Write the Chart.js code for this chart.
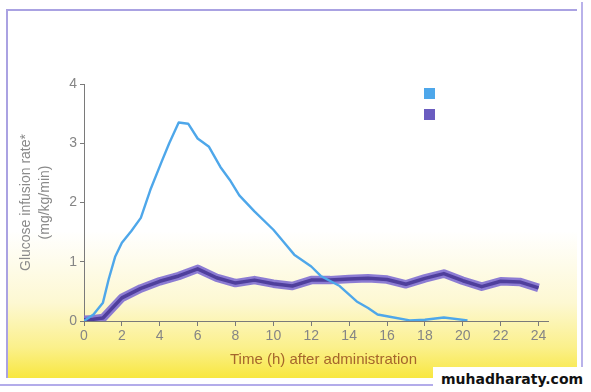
<!DOCTYPE html>
<html>
<head>
<meta charset="utf-8">
<script src="https://cdn.jsdelivr.net/npm/chart.js@4.4.1/dist/chart.umd.min.js"></script>
<style>
  html, body { margin: 0; padding: 0; background: #ffffff; }
  #wrap { position: relative; width: 591px; height: 392px; overflow: hidden; background: #ffffff; }
  #panel {
    position: absolute; left: 6px; top: 9px; width: 569px; height: 367px;
    background: linear-gradient(to bottom, #ffffff 0px, #ffffff 220px, #fdf8d2 292px, #fbf08a 337px, #f8e740 367px);
    border-left: 2px solid #aaa2e2; border-top: 2px solid #aaa2e2;
  }
  #rline { position: absolute; left: 581px; top: 2px; width: 2px; height: 376px; background: #b9b2ea; }
  #bline { position: absolute; left: 0px; top: 384px; width: 591px; height: 2px; background: #b3acea; }
  #wm {
    position: absolute; left: 433px; top: 367px; width: 158px; height: 25px; background: #ffffff;
    font-family: "DejaVu Sans", sans-serif; font-weight: bold; font-size: 14px; color: #111;
    line-height: 25px; text-align: left; padding-left: 8px; box-sizing: border-box; white-space: nowrap;
  }
  canvas { position: absolute; left: 0; top: 0; }
</style>
</head>
<body>
<div id="wrap">
  <div id="panel"></div>
  <div id="rline"></div>
  <div id="bline"></div>
  <canvas id="c" width="591" height="392"></canvas>
  <div id="wm">muhadharaty.com</div>
</div>
<script>
// Data
const seriesNames = ['Rapid-acting', 'Long-acting'];
const xTickStep = 2;
const yTickValues = [0, 1, 2, 3, 4];

const rapidHours = [0, 0.5, 1.0, 1.3, 1.65, 2.0, 2.5, 3.0, 3.5, 4.1, 4.5, 5.0, 5.5, 6.0, 6.6, 7.2, 7.7, 8.2, 9.0, 10.0, 10.5, 11.1, 12.0, 12.5, 13.5, 14.4, 15.0, 15.5, 16.0, 17.2, 18.0, 19.0, 20.25];
const rapidRate  = [0, 0.11, 0.31, 0.70, 1.09, 1.32, 1.52, 1.74, 2.21, 2.69, 3.00, 3.35, 3.33, 3.08, 2.94, 2.60, 2.38, 2.12, 1.85, 1.54, 1.35, 1.12, 0.92, 0.76, 0.59, 0.33, 0.22, 0.11, 0.08, 0.01, 0.02, 0.06, 0.01];

const longHours = [0, 0.5, 1.0, 2.0, 3.0, 4.0, 5.0, 6.0, 7.0, 8.0, 9.0, 10.0, 11.0, 12.0, 13.0, 14.0, 15.0, 16.0, 17.0, 18.0, 19.0, 20.0, 21.0, 22.0, 23.0, 24.0];
const longRate  = [0.02, 0.03, 0.05, 0.39, 0.55, 0.67, 0.76, 0.88, 0.73, 0.64, 0.69, 0.63, 0.59, 0.69, 0.69, 0.71, 0.72, 0.70, 0.62, 0.72, 0.80, 0.68, 0.58, 0.67, 0.66, 0.56];

const toPoints = (xs, ys) => xs.map((x, i) => ({ x: x, y: ys[i] }));

const blueColor = '#4ea7ea';
const purpleHalo = 'rgba(128,110,210,0.9)';
const purpleCore = '#4f3f9c';

// simple legend (colour boxes only, as in the reference)
const boxLegend = {
  id: 'boxLegend',
  afterDraw(chart) {
    const ctx = chart.ctx;
    const a = chart.chartArea;
    const items = [blueColor, '#6a5cc0'];
    ctx.save();
    items.forEach((col, i) => {
      ctx.fillStyle = col;
      ctx.fillRect(a.right - 124, a.top + 4 + i * 21, 11, 11);
    });
    ctx.restore();
  }
};

new Chart(document.getElementById('c'), {
  type: 'line',
  data: {
    datasets: [
      { label: seriesNames[1] + ' halo', data: toPoints(longHours, longRate), borderColor: purpleHalo, borderWidth: 8.5, pointRadius: 0, tension: 0, borderJoinStyle: 'round', borderCapStyle: 'butt', order: 3 },
      { label: seriesNames[1], data: toPoints(longHours, longRate), borderColor: purpleCore, borderWidth: 3.5, pointRadius: 0, tension: 0, borderJoinStyle: 'round', order: 2 },
      { label: seriesNames[0], data: toPoints(rapidHours, rapidRate), borderColor: blueColor, borderWidth: 2.4, pointRadius: 0, tension: 0, borderJoinStyle: 'round', order: 1 }
    ]
  },
  options: {
    responsive: false,
    animation: false,
    devicePixelRatio: 1,
    layout: { padding: { left: 0, top: 84, right: 43, bottom: 0 } },
    plugins: { legend: { display: false }, tooltip: { enabled: false } },
    scales: {
      x: {
        type: 'linear', min: 0, max: 24.5,
        afterFit: (s) => { s.height = 71; },
        afterBuildTicks: (s) => { const t = []; for (let v = 0; v <= 24; v += xTickStep) t.push({ value: v }); s.ticks = t; },
        border: { display: true, color: '#7a7a7a', width: 1 },
        grid: { display: true, drawOnChartArea: false, drawTicks: true, tickLength: 5, color: '#7a7a7a' },
        ticks: { color: '#858585', font: { family: 'Liberation Sans, Arial, sans-serif', size: 14 }, padding: 2, maxRotation: 0 },
        title: { display: true, text: '\u2002\u2002Time (h) after administration', color: '#a5652c', font: { family: 'Liberation Sans, Arial, sans-serif', size: 15 }, padding: { top: 0, bottom: 23 } }
      },
      y: {
        type: 'linear', min: 0, max: 4,
        afterFit: (s) => { s.width = 84; },
        afterBuildTicks: (s) => { s.ticks = yTickValues.map(v => ({ value: v })); },
        border: { display: true, color: '#7a7a7a', width: 1 },
        grid: { display: true, drawOnChartArea: false, drawTicks: true, tickLength: 4, color: '#7a7a7a' },
        ticks: { color: '#858585', font: { family: 'Liberation Sans, Arial, sans-serif', size: 14 }, padding: 3 },
        title: { display: true, text: ['Glucose infusion rate*', '(mg/kg/min)'], color: '#8a8a8a', font: { family: 'Liberation Sans, Arial, sans-serif', size: 14, lineHeight: 1.36 }, padding: { top: 17, bottom: 0 } }
      }
    }
  },
  plugins: [boxLegend]
});
</script>
</body>
</html>
